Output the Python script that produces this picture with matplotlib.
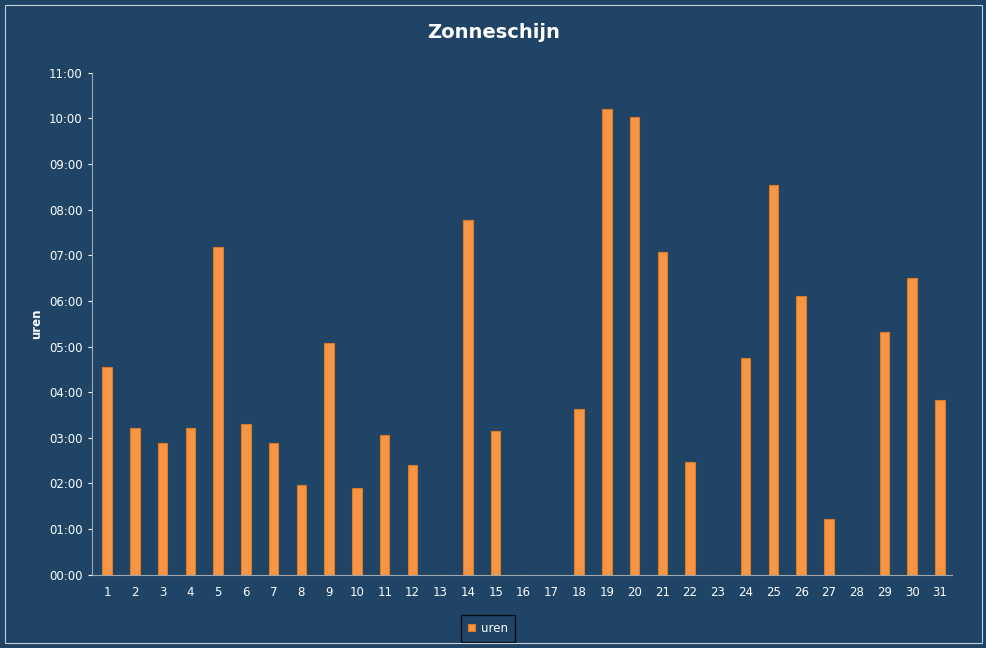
import matplotlib.pyplot as plt
import numpy as np
from matplotlib.patches import Rectangle

days = list(range(1, 32))
uren = [4.55, 3.22, 2.89, 3.22, 7.17, 3.31, 2.89, 1.97, 5.07, 1.89, 3.07, 2.41, 0,
        7.76, 3.14, 0, 0, 3.64, 10.2, 10.02, 7.08, 2.48, 0, 4.74, 8.53, 6.10,
        1.23, 0, 5.31, 6.51, 3.82]
y_ticks = list(range(0, 12))
y_labels = ['%02d:00' % h for h in y_ticks]

bg = '#1f4466'
fig = plt.figure(figsize=(9.87, 6.48), dpi=100, facecolor=bg)
fig.patches.append(Rectangle((0.005, 0.008), 0.99, 0.984, transform=fig.transFigure,
                             fill=False, edgecolor='#c8d0d8', linewidth=0.8))
ax = fig.add_axes([0.093, 0.113, 0.872, 0.775], facecolor=bg)

ax.bar(days, uren, width=0.34, color='#f79646', edgecolor='#e07a20', linewidth=0.8,
       label='uren', zorder=3)
ax.set_xlim(0.45, 31.45)
ax.set_ylim(0, 11)
ax.set_yticks(y_ticks)
ax.set_yticklabels(y_labels)
ax.set_xticks(days)
ax.tick_params(colors='white', labelsize=8.5, length=3)
ax.tick_params(axis='x', length=0, pad=8)
for s in ['top', 'right']:
    ax.spines[s].set_visible(False)
ax.spines['left'].set_color('#a0a8b0')
ax.spines['bottom'].set_color('#a0a8b0')
ax.spines['bottom'].set_linestyle((0, (2, 1)))
ax.set_ylabel('uren', color='white', fontsize=8.5, fontweight='bold')
fig.suptitle('Zonneschijn', color='white', fontsize=14, fontweight='bold', y=0.965)

leg = ax.legend(loc='upper center', bbox_to_anchor=(0.46, -0.075), frameon=True,
                fontsize=8.5, handlelength=0.6, handleheight=0.6, borderpad=0.3,
                handletextpad=0.5)
leg.get_frame().set_facecolor(bg)
leg.get_frame().set_edgecolor('black')
leg.get_frame().set_boxstyle('square')
for t in leg.get_texts():
    t.set_color('white')

fig.savefig('out.png', dpi=100, facecolor=bg)
